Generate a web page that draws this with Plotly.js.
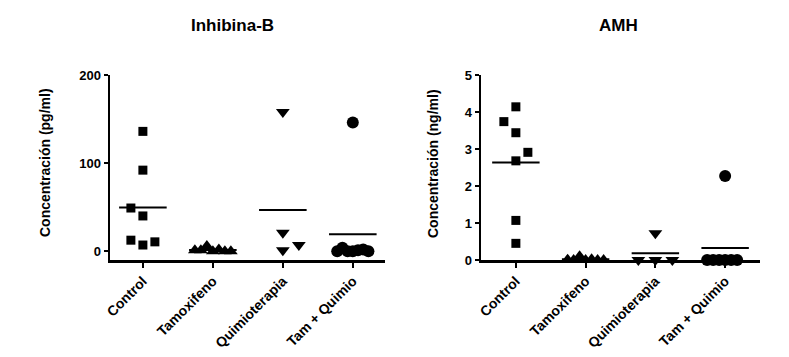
<!DOCTYPE html>
<html>
<head>
<meta charset="utf-8">
<script src="https://cdn.plot.ly/plotly-3.0.1.min.js"></script>
<style>html,body{margin:0;padding:0;background:#fff;}#chart{width:789px;height:357px;}</style>
</head>
<body>
<div id="chart"></div>
<script>
// ---- data ----
const categories = ["Control", "Tamoxifeno", "Quimioterapia", "Tam + Quimio"];

// Inhibina-B (pg/ml)
const inhControl = [136, 92, 40, 49, 7, 10.6, 12.5];
const inhTamoxifeno = [0, 6, 2, 1, 0, 1, 0];
const inhQuimio = [158, 21, 1, 7];
const inhTamQuimio = [146, 0, 0, 1, 4, 2, 0, 0];

// AMH (ng/ml)
const amhControl = [4.14, 3.44, 3.74, 2.68, 2.91, 1.07, 0.45];
const amhTamoxifeno = [0, 0.1, 0.02, 0, 0, 0.01, 0];
const amhQuimio = [0.72, 0, 0, 0];
const amhTamQuimio = [2.27, 0, 0, 0, 0, 0, 0];

const yTicksInh = [0, 100, 200];
const yTicksAmh = [0, 1, 2, 3, 4, 5];

// ---- style / layout ----
const FONT = "Arial, 'Liberation Sans', Helvetica, sans-serif";
const W = 789, H = 357;
const leftPx = [110, 385], rightPx = [481, 760];
const topPx = 75, botPx = 260;
const symbols = ["square", "triangle-up", "triangle-down", "circle"];
const sizes = [9, 12, 12, 12];
const stepsL = [12, 6, 16, 5.2];
const stepsR = [12, 6, 17, 6];
const firstSide = [-1, -1, 1, -1];
const meanHalf = 0.34;

function swarm(vals, pxPerUnit, stepPx, pxPerCat, side0) {
  const placed = [];
  let side = side0;
  const thr = 12;
  const out = [];
  vals.forEach(v => {
    const cands = [0];
    for (let m = 1; m < 10; m++) { cands.push(side * m, -side * m); }
    let chosen = 0;
    for (const s of cands) {
      const clash = placed.some(p => p.s === s && Math.abs(p.v - v) * pxPerUnit < thr);
      if (!clash) { chosen = s; break; }
    }
    if (chosen !== 0) side = -Math.sign(chosen);
    placed.push({ s: chosen, v: v });
    out.push(chosen * stepPx / pxPerCat);
  });
  return out;
}

function buildTraces(groups, xa, ya, yrange, xrange, steps, pxRange) {
  const pxPerUnit = (botPx - topPx) / (yrange[1] - yrange[0]);
  const pxPerCat = (pxRange[1] - pxRange[0]) / (xrange[1] - xrange[0]);
  const traces = [];
  groups.forEach((vals, i) => {
    const offs = swarm(vals, pxPerUnit, steps[i], pxPerCat, firstSide[i]);
    traces.push({
      type: "scatter", mode: "markers", xaxis: xa, yaxis: ya,
      x: offs.map(o => i + o), y: vals, cliponaxis: false,
      marker: { symbol: symbols[i], size: sizes[i], color: "#000", line: { width: 0 } },
      hoverinfo: "y", showlegend: false
    });
    const mean = vals.reduce((a, b) => a + b, 0) / vals.length;
    traces.push({
      type: "scatter", mode: "lines", xaxis: xa, yaxis: ya,
      x: [i - meanHalf, i + meanHalf], y: [mean, mean], cliponaxis: false,
      line: { color: "#000", width: 2 }, hoverinfo: "skip", showlegend: false
    });
  });
  return traces;
}

const xrL = [-0.47, 3.46], yrL = [-10, 200];
const xrR = [-0.5, 3.5], yrR = [0, 5];

const traces = []
  .concat(buildTraces([inhControl, inhTamoxifeno, inhQuimio, inhTamQuimio], "x", "y", yrL, xrL, stepsL, leftPx))
  .concat(buildTraces([amhControl, amhTamoxifeno, amhQuimio, amhTamQuimio], "x2", "y2", yrR, xrR, stepsR, rightPx));

const yDom = [(H - botPx) / H, (H - topPx) / H];
const tickFont = { family: FONT, size: 13, color: "#000", weight: "bold" };
const catFont = { family: FONT, size: 14, color: "#000", weight: "bold" };

function xAxis(domPx, range, anchor) {
  return {
    domain: [domPx[0] / W, domPx[1] / W], range: range, anchor: anchor,
    tickmode: "array", tickvals: categories.map((c, i) => i), ticktext: categories,
    tickangle: -45, tickfont: catFont, ticks: "outside", ticklen: 5, tickwidth: 2, tickcolor: "#000",
    showline: true, linewidth: 2.5, linecolor: "#000", showgrid: false, zeroline: false,
    automargin: false, fixedrange: true
  };
}
function yAxis(range, ticks, anchor) {
  return {
    domain: yDom, range: range, anchor: anchor,
    tickmode: "array", tickvals: ticks, ticktext: ticks.map(String),
    tickfont: tickFont, ticks: "outside", ticklen: 4, tickwidth: 2, tickcolor: "#000",
    showline: true, linewidth: 2.5, linecolor: "#000", showgrid: false, zeroline: false,
    automargin: false, fixedrange: true
  };
}

const layout = {
  width: W, height: H,
  margin: { l: 0, r: 0, t: 0, b: 0 },
  paper_bgcolor: "#fff", plot_bgcolor: "#fff",
  font: { family: FONT, color: "#000" },
  showlegend: false,
  xaxis: xAxis(leftPx, xrL, "y"),
  yaxis: yAxis(yrL, yTicksInh, "x"),
  xaxis2: xAxis(rightPx, xrR, "y2"),
  yaxis2: yAxis(yrR, yTicksAmh, "x2"),
  annotations: [
    { text: "Inhibina-B", x: 232 / W, y: 1 - 26 / H, xref: "paper", yref: "paper", showarrow: false,
      xanchor: "center", yanchor: "middle", font: { family: FONT, size: 17, weight: "bold", color: "#000" } },
    { text: "AMH", x: 618 / W, y: 1 - 26 / H, xref: "paper", yref: "paper", showarrow: false,
      xanchor: "center", yanchor: "middle", font: { family: FONT, size: 17, weight: "bold", color: "#000" } },
    { text: "Concentración (pg/ml)", x: 45 / W, y: 1 - 163 / H, xref: "paper", yref: "paper", showarrow: false,
      textangle: -90, xanchor: "center", yanchor: "middle", font: { family: FONT, size: 14, weight: "bold", color: "#000" } },
    { text: "Concentración (ng/ml)", x: 433 / W, y: 1 - 163 / H, xref: "paper", yref: "paper", showarrow: false,
      textangle: -90, xanchor: "center", yanchor: "middle", font: { family: FONT, size: 14, weight: "bold", color: "#000" } }
  ]
};

Plotly.newPlot("chart", traces, layout, { staticPlot: true, displayModeBar: false });
</script>
</body>
</html>
